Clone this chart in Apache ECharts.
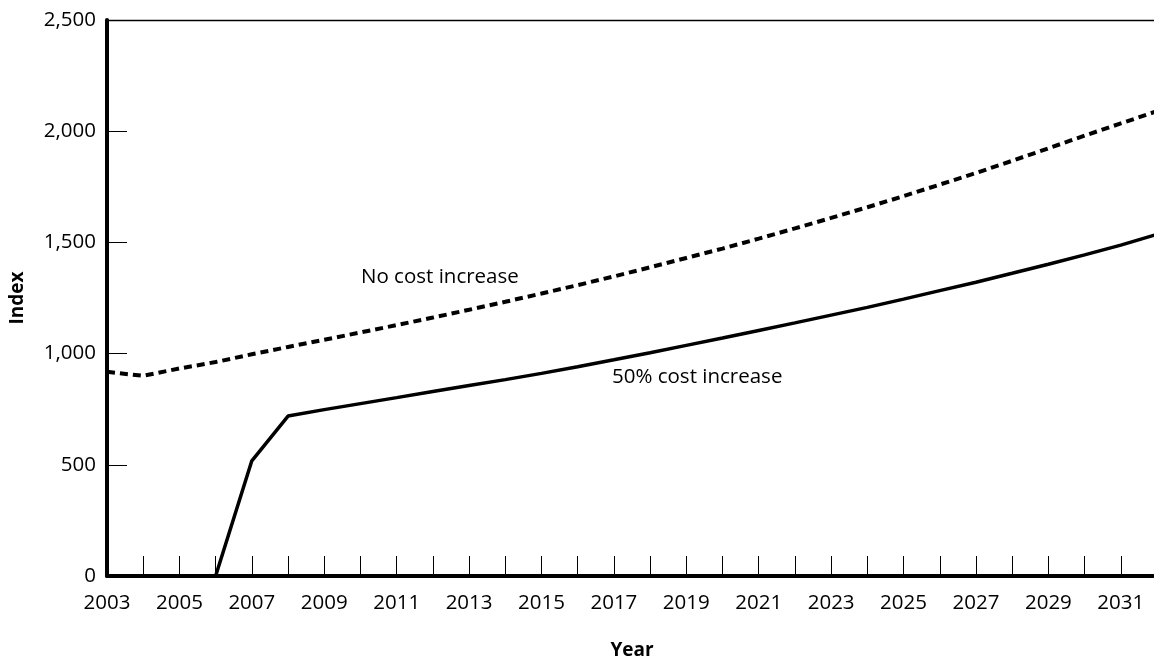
<!DOCTYPE html>
<html>
<head>
<meta charset="utf-8">
<script src="https://cdn.jsdelivr.net/npm/echarts@6/dist/echarts.min.js"></script>
<style>
html,body{margin:0;padding:0;background:#fff;}
#chart{width:1154px;height:660px;}
</style>
</head>
<body>
<div id="chart"></div>
<script>
const years = [2003,2004,2005,2006,2007,2008,2009,2010,2011,2012,2013,2014,2015,2016,2017,2018,2019,2020,2021,2022,2023,2024,2025,2026,2027,2028,2029,2030,2031,2032];
const noCostIncrease = [918,900,933,962,997,1030,1062,1095,1128,1162,1197,1233,1270,1308,1347,1388,1430,1472,1517,1563,1610,1658,1708,1760,1812,1867,1923,1980,2035,2090];
const costIncrease50 = [0,0,0,0,518,719,748,775,802,830,857,883,911,941,972,1004,1037,1070,1104,1138,1173,1208,1245,1283,1321,1361,1402,1444,1488,1536];
const yTicks = [0,500,1000,1500,2000,2500];
const seriesNames = ['No cost increase','50% cost increase'];

const font = 'Open Sans';
const chart = echarts.init(document.getElementById('chart'), null, {renderer:'canvas'});
const pairs = (ys) => years.map((y,i)=>[y, ys[i]]);

chart.setOption({
  animation:false,
  backgroundColor:'#fff',
  grid:{left:107, top:20, right:-3, bottom:84, containLabel:false, outerBoundsMode:'none'},
  xAxis:[{
    type:'value', min:2003, max:2032, interval:1,
    name:'Year', nameLocation:'middle', nameGap:65,
    nameTextStyle:{fontFamily:font, fontWeight:'bold', fontSize:19, color:'#000'},
    axisLine:{show:true, onZero:false, lineStyle:{color:'#000', width:4}},
    axisTick:{show:true, inside:true, length:20, lineStyle:{color:'#000', width:1}},
    axisLabel:{fontFamily:font, fontSize:20.5, color:'#000', margin:17,
      formatter:(v)=> (v%2===1 && v<2032) ? String(v) : ''},
    splitLine:{show:false}
  },{
    type:'value', min:2003, max:2032, interval:1, position:'top',
    axisLine:{show:true, onZero:false, lineStyle:{color:'#000', width:1.3}},
    axisTick:{show:false}, axisLabel:{show:false}, splitLine:{show:false}
  }],
  yAxis:{
    type:'value', min:yTicks[0], max:yTicks[yTicks.length-1], interval:500,
    name:'Index', nameLocation:'middle', nameGap:80, nameRotate:90,
    nameTextStyle:{fontFamily:font, fontWeight:'bold', fontSize:19, color:'#000'},
    axisLine:{show:true, onZero:false, lineStyle:{color:'#000', width:4}},
    axisTick:{show:true, inside:true, length:20, lineStyle:{color:'#000', width:1}},
    axisLabel:{fontFamily:font, fontSize:20.5, color:'#000', margin:11,
      formatter:(v)=> v.toLocaleString('en-US')},
    splitLine:{show:false}
  },
  series:[{
    name:seriesNames[0], type:'line', data:pairs(noCostIncrease), symbol:'none',
    lineStyle:{color:'#000', width:4, type:[8,5], cap:'butt'}
  },{
    name:seriesNames[1], type:'line', data:pairs(costIncrease50), symbol:'none',
    lineStyle:{color:'#000', width:3.5, type:'solid'}, z:3
  }],
  graphic:[
    {type:'text', left:361, top:267, style:{text:seriesNames[0], fontFamily:font, fontSize:20.5, fill:'#000'}},
    {type:'text', left:612, top:367, style:{text:seriesNames[1], fontFamily:font, fontSize:20.5, fill:'#000'}}
  ]
});
</script>
</body>
</html>
